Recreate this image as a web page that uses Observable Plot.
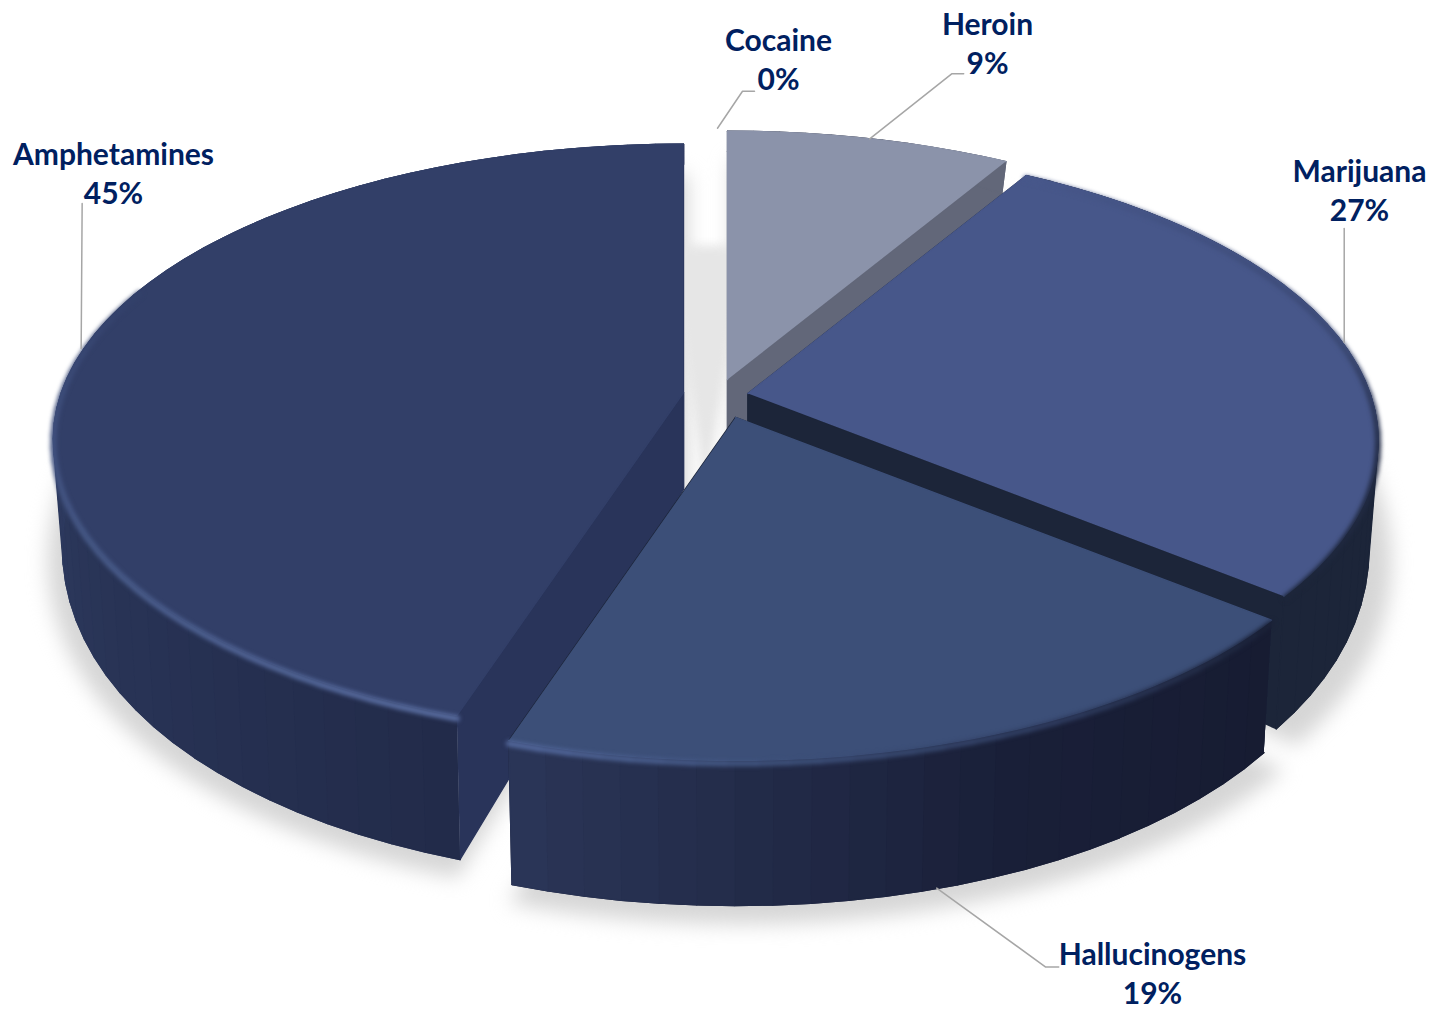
<!DOCTYPE html>
<html>
<head>
<meta charset="utf-8">
<style>html,body{margin:0;padding:0;background:#fff}svg{display:block}</style>
<script src="https://cdn.jsdelivr.net/npm/d3@7"></script>
<script src="https://cdn.jsdelivr.net/npm/@observablehq/plot@0.6"></script>
</head>
<body>
<div id="chart"></div>
<script>
// ---- chart values ----
const categories = ["Cocaine", "Heroin", "Marijuana", "Hallucinogens", "Amphetamines"];
const shares = [0.0, 8.5, 27.4, 19.1, 45.0];

// ---- appearance per category ----
const topColors = ["#8b93aa", "#8b93aa", "#47578a", "#3c4f78", "#323f68"];
const cutColors = ["#626779", "#626779", "#1c2539", "#1c2539", "#29345a"];
const sideStops = [
  [[0, 360], ["#626779", "#626779"]],
  [[0, 360], ["#626779", "#626779"]],
  [[0, 360], ["#1c2539", "#1c2539"]],
  [[130, 158, 198], ["#171c32", "#191f38", "#2b3658"]],
  [[198, 270], ["#222b4a", "#2e3b60"]]
];
const rimStops = [
  null,
  null,
  [[30, 78, 100, 129], ["#47578a", "#3b4974", "#242d47", "#1c2539"]],
  [[129, 150, 175, 198], ["#1b2238", "#2d3a5c", "#3e517b", "#556ba0"]],
  [[198, 232, 270, 292], ["#5a6ea2", "#4a5d8c", "#3d4d7a", "#323f68"]]
];

// ---- pie geometry (exploded apex of each slice and view parameters) ----
const apexX = [717, 727, 747.5, 735, 683];
const apexY = [376, 379, 393, 417, 392];
const view = {R: 622, Ry: 288, p: 0.16, Rb: 613, Ryb: 345.9, Db: 96.6, pb: 0.0933};

// ---- leader lines and labels, relative to the rim point at each slice's mid-angle ----
const leaderFromBase = [false, false, false, true, false];
const leaderNudge = [[0, 0], [0, 0], [0.5, -2], [-3, 0], [-3, 0]];
const leaderElbow = [[25, -37], [82, -65], [0, -57], [109, 79], [1, -145]];
const leaderEnd = [[37, -37], [94, -65], [0, -114], [122, 79], [1, -145]];
const labelCenterX = [778, 987, 1359, 1152, 113];
const labelCenterY = [58, 42, 189, 972, 172];

// ---- derived from the values ----
const rad = d => d * Math.PI / 180;
const topPt = (i, a) => {
  const u = Math.sin(rad(a)), v = -Math.cos(rad(a)), w = 1 - view.p * v;
  return [apexX[i] + view.R * u / w, apexY[i] + view.Ry * v / w];
};
const basePt = (i, a) => {
  const u = Math.sin(rad(a)), v = -Math.cos(rad(a));
  return [apexX[i] + view.Rb * u / (1 - view.p * v),
          apexY[i] + (view.Ryb * v + view.Db) / (1 - view.pb * v)];
};
const apexBase = i => [apexX[i], apexY[i] + view.Db];
const total = d3.sum(shares);
let running = 0;
const slices = categories.map((name, i) => {
  const a0 = running; running += shares[i] / total * 360;
  return {i, name, a0, a1: running, mid: (a0 + running) / 2};
});
const ramp = ([dom, rng]) => d3.scaleLinear().domain(dom).range(rng).clamp(true);
const arcAngles = (a0, a1, step = 1.5) => {
  const n = Math.max(1, Math.ceil((a1 - a0) / step));
  return d3.range(n + 1).map(k => a0 + (a1 - a0) * k / n);
};

const faces = [];
let fid = 0;
const addFace = (pts, c) => { const id = fid++; pts.forEach(([x, y]) => faces.push({id, x, y, c})); };
const paintOrder = [1, 4, 2, 3];
for (const i of paintOrder) {
  const s = slices[i];
  const side = ramp(sideStops[i]);
  addFace([topPt(i, s.a0), [apexX[i], apexY[i]], apexBase(i), basePt(i, s.a0)], cutColors[i]);
  addFace([topPt(i, s.a1), [apexX[i], apexY[i]], apexBase(i), basePt(i, s.a1)], cutColors[i]);
  const as = arcAngles(s.a0, s.a1, 3);
  // one underlay for the whole curved wall, then the shaded bands on top of it
  addFace([...as.map(a => topPt(i, a)), ...as.slice().reverse().map(a => basePt(i, a))],
          d3.color(side(s.mid)).formatHex());
  for (let k = 0; k < as.length - 1; k++) {
    addFace([topPt(i, as[k]), topPt(i, as[k + 1]), basePt(i, as[k + 1]), basePt(i, as[k])],
            d3.color(side((as[k] + as[k + 1]) / 2)).formatHex());
  }
  addFace([[apexX[i], apexY[i]], ...arcAngles(s.a0, s.a1).map(a => topPt(i, a))], topColors[i]);
}

// bevel highlight along the front rim
const rims = [];
let rid = 0;
for (const i of [2, 3, 4]) {
  const s = slices[i], col = ramp(rimStops[i]);
  const as = arcAngles(Math.max(s.a0, rimStops[i][0][0]), Math.min(s.a1, rimStops[i][0].at(-1)), 2.5);
  for (let k = 0; k < as.length - 1; k++) {
    const c = d3.color(col(as[k])).formatHex(), id = rid++;
    [as[k], as[k + 1]].forEach(a => { const [x, y] = topPt(i, a); rims.push({id, x, y: y + 3, c}); });
  }
}

// soft cast shadow: each slice's base, pushed outward
const shadows = [];
let sid = 0;
for (const i of paintOrder) {
  const s = slices[i], id = sid++;
  const cx = apexX[i], cy = apexY[i] + view.Db;
  [[apexX[i], cy], ...arcAngles(s.a0, s.a1, 3).map(a => basePt(i, a))].forEach(([x, y]) => {
    shadows.push({id, x: cx + (x - cx) * 1.03 + 4, y: cy + (y - cy) * 1.012 + 14});
  });
}
// shadow showing through the gap at the zero-size Cocaine slice
const gapShadow = [[apexX[0] - 12, 492]].concat(
  arcAngles(-6.5, 6.5, 1).map(a => [apexX[0] - 10 + 355 * Math.sin(rad(a)), 490 - 245 * Math.cos(rad(a))])
).map(([x, y]) => ({x, y}));

// leaders and labels
const leaders = [], labels = [];
slices.forEach(s => {
  const i = s.i;
  const [x0, y0] = leaderFromBase[i] ? basePt(i, s.mid) : topPt(i, s.mid);
  const p0 = [x0 + leaderNudge[i][0], y0 + leaderNudge[i][1]];
  [p0, [p0[0] + leaderElbow[i][0], p0[1] + leaderElbow[i][1]], [p0[0] + leaderEnd[i][0], p0[1] + leaderEnd[i][1]]]
    .forEach(([x, y]) => leaders.push({name: s.name, x, y}));
  labels.push({x: labelCenterX[i], y: labelCenterY[i], t: `${s.name}\n${Math.round(shares[i])}%`});
});

const blur = px => (index, scales, values, dims, ctx, next) => {
  const g = next(index, scales, values, dims, ctx);
  g.style.filter = `blur(${px}px)`;
  return g;
};

const chart = Plot.plot({
  width: 1446, height: 1009,
  margin: 0,
  x: {domain: [0, 1446], range: [0, 1446], axis: null},
  y: {domain: [0, 1009], range: [0, 1009], axis: null},
  color: {type: "identity"},
  style: {background: "white"},
  marks: [
    Plot.line(shadows, {x: "x", y: "y", z: "id", fill: "#d6d6d6", stroke: null, render: blur(10)}),
    Plot.line(gapShadow, {x: "x", y: "y", fill: "#e6e6e6", stroke: null, render: blur(5)}),
    Plot.line(faces, {x: "x", y: "y", z: "id", fill: "c", stroke: "c", strokeWidth: 1.4, curve: "linear"}),
    Plot.line(rims, {x: "x", y: "y", z: "id", stroke: "c", strokeWidth: 6, strokeLinecap: "round", render: blur(2)}),
    Plot.line(leaders, {x: "x", y: "y", z: "name", stroke: "#a6a6a6", strokeWidth: 1.5}),
    Plot.text(labels, {
      x: "x", y: "y", text: "t", textAnchor: "middle", lineAnchor: "middle", lineHeight: 1.3,
      fontFamily: "Lato", fontWeight: 700, fontSize: 30, fill: "#002060"
    })
  ]
});
document.getElementById("chart").append(chart);
</script>
</body>
</html>
